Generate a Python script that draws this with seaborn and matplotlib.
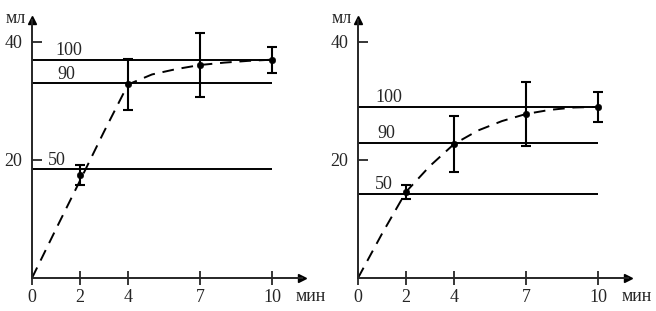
import matplotlib
matplotlib.use('Agg')
import matplotlib.pyplot as plt
import numpy as np
import seaborn as sns

sns.set_style('ticks')
plt.rcParams['font.family'] = ['Liberation Serif', 'DejaVu Serif']

# measured points (time, volume, error half-width)
time_pts = [2, 4, 7, 10]
left_vals = [17.5, 32.8, 36.1, 37.0]
left_err = [1.7, 4.3, 5.4, 2.2]
right_vals = [14.6, 22.7, 27.8, 29.0]
right_err = [1.2, 4.7, 5.4, 2.5]

# dashed trend curve
curve_t = [0, 1, 2, 3, 4, 5, 6, 7, 8, 9, 10]
left_curve = [0, 8.3, 16.5, 24.8, 32.8, 34.5, 35.4, 36.1, 36.5, 36.8, 37.0]
right_curve = [0, 7.5, 14.6, 19.0, 22.7, 25.0, 26.6, 27.8, 28.5, 28.9, 29.0]

# horizontal reference levels (100 %, 90 %, 50 %)
level_names = ['100', '90', '50']
left_levels = [37.0, 33.0, 18.4]
right_levels = [29.0, 22.9, 14.3]

xticks = [0, 2, 4, 7, 10]
yticks = [20, 40]

fig = plt.figure(figsize=(6.56, 3.11), dpi=100)
W, H = 656, 311
px_x, px_y = 24.0, 5.9      # pixels per unit
xmax, ymax = 11.25, 43.8

panels = [
    (32, left_vals, left_err, left_curve, left_levels, [0.96, 1.04, 0.67]),
    (358, right_vals, right_err, right_curve, right_levels, [0.71, 0.79, 0.71]),
]

for x0, vals, err, curve, levels, lab_x in panels:
    ax = fig.add_axes([x0 / W, (H - 278) / H, xmax * px_x / W, ymax * px_y / H])
    ax.set_xlim(0, xmax)
    ax.set_ylim(0, ymax)

    for name, lv, lx in zip(level_names, levels, lab_x):
        ax.hlines(lv, 0, 10, color='black', lw=1.4)
        ax.text(lx, lv + 0.75, name, fontsize=13, ha='left', va='baseline')

    sns.lineplot(x=curve_t, y=curve, ax=ax, color='black', lw=1.4,
                 linestyle=(0, (6, 4)))
    ax.errorbar(time_pts, vals, yerr=err, fmt='none', ecolor='black',
                elinewidth=1.5, capsize=3.5, capthick=1.5)
    sns.scatterplot(x=time_pts, y=vals, ax=ax, color='black', s=22,
                    edgecolor='black', zorder=5)

    sns.despine(ax=ax)
    ax.spines['left'].set_linewidth(1.4)
    ax.spines['bottom'].set_linewidth(1.4)
    ax.plot(1, 0, '>', color='black', ms=6, transform=ax.transAxes, clip_on=False)
    ax.plot(0, 1, '^', color='black', ms=6, transform=ax.transAxes, clip_on=False)

    ax.set_xticks(xticks)
    ax.set_yticks(yticks)
    ax.tick_params(axis='x', direction='inout', length=10, width=1.3,
                   pad=3, labelsize=13)
    ax.tick_params(axis='y', direction='in', length=7, width=1.3,
                   pad=7, labelsize=13)

    ax.text(-0.67, 44.0, 'мл', fontsize=13, ha='center', va='center', clip_on=False)
    ax.text(11.6, -3.1, 'мин', fontsize=13, ha='center', va='center', clip_on=False)

fig.savefig('out.png', dpi=100)
